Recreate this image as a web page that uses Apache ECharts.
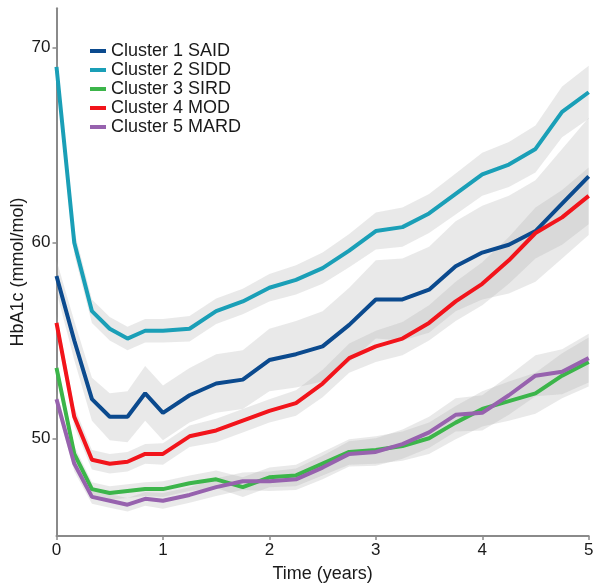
<!DOCTYPE html>
<html>
<head>
<meta charset="utf-8">
<script src="https://cdn.jsdelivr.net/npm/echarts@6/dist/echarts.min.js"></script>
<style>
  html, body { margin: 0; padding: 0; background: #fff; }
  #main { width: 596px; height: 585px; }
</style>
</head>
<body>
<div id="main"></div>
<script>
// time points (years)
var times = [0, 0.167, 0.333, 0.5, 0.667, 0.833, 1, 1.25, 1.5, 1.75, 2, 2.25, 2.5, 2.75, 3, 3.25, 3.5, 3.75, 4, 4.25, 4.5, 4.75, 5];

// mean HbA1c per cluster
var said = [58.3, 55.0, 52.0, 51.1, 51.1, 52.3, 51.3, 52.2, 52.8, 53.0, 54.0, 54.3, 54.7, 55.8, 57.1, 57.1, 57.6, 58.8, 59.5, 59.9, 60.6, 62.0, 63.4];
var sidd = [69.0, 60.0, 56.5, 55.6, 55.1, 55.5, 55.5, 55.6, 56.5, 57.0, 57.7, 58.1, 58.7, 59.6, 60.6, 60.8, 61.5, 62.5, 63.5, 64.0, 64.8, 66.7, 67.7];
var sird = [53.6, 49.2, 47.4, 47.2, 47.3, 47.4, 47.4, 47.7, 47.9, 47.5, 48.0, 48.1, 48.7, 49.3, 49.4, 49.6, 50.0, 50.8, 51.5, 51.9, 52.3, 53.2, 53.9];
var mod  = [55.9, 51.1, 48.9, 48.7, 48.8, 49.2, 49.2, 50.1, 50.4, 50.9, 51.4, 51.8, 52.8, 54.1, 54.7, 55.1, 55.9, 57.0, 57.9, 59.1, 60.5, 61.3, 62.4];
var mard = [52.0, 48.7, 47.0, 46.8, 46.6, 46.9, 46.8, 47.1, 47.5, 47.8, 47.8, 47.9, 48.5, 49.2, 49.3, 49.7, 50.3, 51.2, 51.3, 52.2, 53.2, 53.4, 54.1];

// half width of the grey confidence band
var saidCi = [0.8, 1.0, 1.1, 1.2, 1.3, 1.4, 1.4, 1.4, 1.5, 1.5, 1.6, 1.7, 1.8, 1.9, 2.0, 2.1, 2.2, 2.3, 2.4, 2.5, 2.6, 2.8, 3.0];
var siddCi = [0.6, 0.6, 0.6, 0.6, 0.6, 0.6, 0.6, 0.65, 0.65, 0.65, 0.7, 0.75, 0.8, 0.85, 0.95, 1.0, 1.0, 1.05, 1.1, 1.15, 1.2, 1.3, 1.35];
var sirdCi = [0.4, 0.4, 0.35, 0.35, 0.35, 0.35, 0.4, 0.4, 0.45, 0.5, 0.5, 0.55, 0.6, 0.65, 0.7, 0.75, 0.8, 0.85, 0.9, 1.0, 1.05, 1.15, 1.25];
var modCi  = [0.5, 0.5, 0.5, 0.5, 0.5, 0.5, 0.55, 0.55, 0.6, 0.6, 0.6, 0.65, 0.7, 0.75, 0.8, 0.85, 0.9, 1.0, 1.1, 1.2, 1.3, 1.4, 1.45];
var mardCi = [0.4, 0.4, 0.35, 0.35, 0.35, 0.35, 0.4, 0.4, 0.45, 0.45, 0.5, 0.55, 0.6, 0.65, 0.7, 0.75, 0.8, 0.85, 0.9, 1.0, 1.05, 1.15, 1.25];

var names = ['Cluster 1 SAID', 'Cluster 2 SIDD', 'Cluster 3 SIRD', 'Cluster 4 MOD', 'Cluster 5 MARD'];
var colors = ['#0b4a8e', '#1a9fb7', '#3cb54a', '#f2141b', '#9762ae'];
var yTicks = [50, 60, 70];
var xTicks = [0, 1, 2, 3, 4, 5];

var means = [said, sidd, sird, mod, mard];
var cis = [saidCi, siddCi, sirdCi, modCi, mardCi];

var series = [];
means.forEach(function (m, k) {
    var ci = cis[k];
    var rows = times.map(function (t, i) { return [t, m[i] - ci[i], m[i] + ci[i]]; });
    // grey band drawn as one polygon: upper edge left->right, lower edge back
    series.push({
        type: 'custom', silent: true, z: 1,
        encode: { x: 0, y: [1, 2] },
        data: rows,
        renderItem: function (params, api) {
            if (params.dataIndex !== 0) return null;
            var pts = [];
            rows.forEach(function (r) { pts.push(api.coord([r[0], r[2]])); });
            for (var i = rows.length - 1; i >= 0; i--) pts.push(api.coord([rows[i][0], rows[i][1]]));
            return {
                type: 'polygon',
                shape: { points: pts },
                style: { fill: 'rgba(175,175,175,0.28)' }
            };
        }
    });
});
means.forEach(function (m, k) {
    series.push({
        name: names[k], type: 'line', symbol: 'none', z: 3,
        color: colors[k],
        lineStyle: { width: 4, color: colors[k] },
        data: times.map(function (t, i) { return [t, m[i]]; })
    });
});

var myChart = echarts.init(document.getElementById('main'), null, { renderer: 'canvas' });
var option = {
    animation: false,
    textStyle: { fontFamily: 'Liberation Sans, Arial, sans-serif' },
    legend: {
        data: names,
        orient: 'vertical',
        left: 85, top: 37,
        icon: 'rect',
        itemWidth: 16, itemHeight: 4,
        itemGap: 1,
        textStyle: { fontSize: 18, lineHeight: 18, color: '#1a1a1a' }
    },
    grid: { left: 56.5, right: 7.3, top: 8.2, bottom: 49, outerBoundsMode: 'none' },
    xAxis: {
        type: 'value', min: 0, max: 5, interval: 1,
        name: 'Time (years)', nameLocation: 'middle', nameGap: 29, nameMoveOverlap: false,
        nameTextStyle: { fontSize: 18, color: '#1a1a1a' },
        axisLine: { show: true, lineStyle: { color: '#8a8a8a', width: 2 } },
        axisTick: { show: true, length: 4, lineStyle: { color: '#8a8a8a', width: 1.5 }, customValues: xTicks },
        axisLabel: { fontSize: 17, color: '#1a1a1a', margin: 6, customValues: xTicks },
        splitLine: { show: false }
    },
    yAxis: {
        type: 'value', min: 45, max: 72,
        name: 'HbA1c (mmol/mol)', nameLocation: 'middle', nameGap: 29, nameMoveOverlap: false,
        nameTextStyle: { fontSize: 18, color: '#1a1a1a' },
        axisLine: { show: true, lineStyle: { color: '#8a8a8a', width: 2 } },
        axisTick: { show: true, length: 4, lineStyle: { color: '#8a8a8a', width: 1.5 }, customValues: yTicks },
        axisLabel: { fontSize: 17, color: '#1a1a1a', margin: 6, customValues: yTicks },
        splitLine: { show: false }
    },
    series: series
};
myChart.setOption(option);
</script>
</body>
</html>
